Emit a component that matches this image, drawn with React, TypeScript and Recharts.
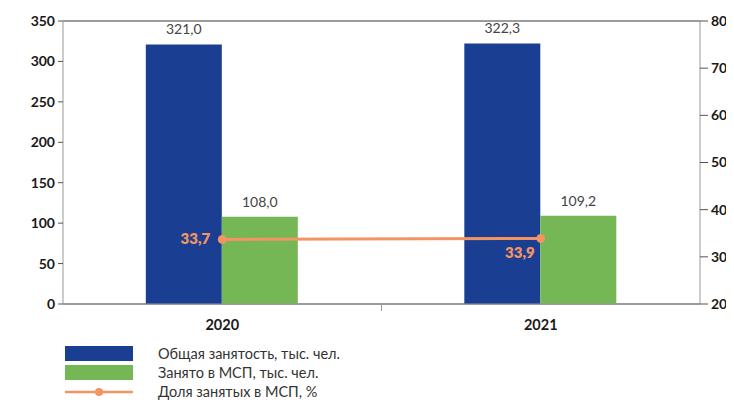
import { ComposedChart, Bar, Line, XAxis, YAxis, CartesianGrid, LabelList } from "recharts";

const years = ["2020", "2021"];
const totalEmployed = [321.0, 322.3];
const smeEmployed = [108.0, 109.2];
const smeShare = [33.7, 33.9];

const leftTicks = [0, 50, 100, 150, 200, 250, 300, 350];
const rightTicks = [20, 30, 40, 50, 60, 70, 80];

const BLUE = "#1a3f92";
const GREEN = "#75b755";
const ORANGE = "#f39462";
const FONT = "Lato, 'Noto Sans', sans-serif";

const data = years.map((year, i) => ({
  year,
  total: totalEmployed[i],
  sme: smeEmployed[i],
  share: smeShare[i],
}));

const fmt = (v: any) => Number(v).toFixed(1).replace(".", ",");

// x axis label + one tick mark between the two years
const YearTick = (props: any) => {
  const { x, y, payload, index } = props;
  const half = payload && payload.offset ? payload.offset : 159;
  return (
    <g>
      {index === 0 && (
        <line x1={x + half} x2={x + half} y1={y - 8} y2={y - 1} stroke="#999" strokeWidth={1} />
      )}
      <text x={x} y={y + 18} textAnchor="middle" fill="#1a1a1a" fontSize={14.5} fontWeight={700} fontFamily={FONT}>
        {payload.value}
      </text>
    </g>
  );
};

const ShareLabel = (props: any) => {
  const { x, y, value, index } = props;
  const dx = index === 0 ? -12 : -6;
  const dy = index === 0 ? 5 : 20;
  return (
    <text x={x + dx} y={y + dy} textAnchor="end" fill={ORANGE} fontSize={15} fontWeight={800} fontFamily={FONT}>
      {fmt(value)}
    </text>
  );
};

const legendItems = [
  { name: "Общая занятость, тыс. чел.", color: BLUE, kind: "bar" },
  { name: "Занято в МСП, тыс. чел.", color: GREEN, kind: "bar" },
  { name: "Доля занятых в МСП, %", color: ORANGE, kind: "line" },
];

export default function App() {
  return (
    <div style={{ position: "relative", width: 726, height: 392, fontFamily: FONT }}>
      <ComposedChart
        width={726}
        height={336}
        data={data}
        margin={{ top: 13, right: 0, bottom: 16, left: 0 }}
        barCategoryGap="26%"
        barGap={0}
      >
        <CartesianGrid vertical={false} stroke="#3a3a3a" strokeWidth={1} />
        <XAxis
          dataKey="year"
          height={24}
          axisLine={{ stroke: "#999" }}
          tickLine={false}
          tick={<YearTick />}
          interval={0}
        />
        <YAxis
          yAxisId="left"
          width={55}
          domain={[0, 350]}
          ticks={leftTicks}
          axisLine={{ stroke: "#999" }}
          tickLine={{ stroke: "#555" }}
          tickSize={5}
          tickMargin={3}
          tick={{ fill: "#1a1a1a", fontSize: 14, fontWeight: 700, fontFamily: FONT }}
        />
        <YAxis
          yAxisId="right"
          orientation="right"
          width={34}
          domain={[20, 80]}
          ticks={rightTicks}
          axisLine={{ stroke: "#999" }}
          tickLine={{ stroke: "#555" }}
          tickSize={8}
          tickMargin={3}
          tick={{ fill: "#1a1a1a", fontSize: 14, fontWeight: 700, fontFamily: FONT }}
        />
        <Bar yAxisId="left" dataKey="total" fill={BLUE} isAnimationActive={false}>
          <LabelList dataKey="total" position="top" offset={10} formatter={fmt} fill="#444" fontSize={14} fontFamily={FONT} />
        </Bar>
        <Bar yAxisId="left" dataKey="sme" fill={GREEN} isAnimationActive={false}>
          <LabelList dataKey="sme" position="top" offset={10} formatter={fmt} fill="#444" fontSize={14} fontFamily={FONT} />
        </Bar>
        <Line
          yAxisId="right"
          dataKey="share"
          stroke={ORANGE}
          strokeWidth={3}
          dot={{ r: 4, fill: ORANGE, stroke: ORANGE, strokeWidth: 1 }}
          isAnimationActive={false}
        >
          <LabelList dataKey="share" content={<ShareLabel />} />
        </Line>
      </ComposedChart>

      {/* legend below the plot */}
      <div style={{ position: "absolute", left: 56, top: 336 }}>
        {legendItems.map((item) => (
          <div key={item.name} style={{ display: "flex", alignItems: "center", height: 19 }}>
            <svg width={70} height={16} style={{ marginRight: 24 }}>
              {item.kind === "bar" ? (
                <rect x={1} y={0} width={68} height={15} fill={item.color} />
              ) : (
                <g>
                  <line x1={1} x2={69} y1={8} y2={8} stroke={item.color} strokeWidth={2.5} />
                  <circle cx={35} cy={8} r={4} fill={item.color} />
                </g>
              )}
            </svg>
            <span style={{ fontSize: 14.5, color: "#333" }}>{item.name}</span>
          </div>
        ))}
      </div>
    </div>
  );
}
